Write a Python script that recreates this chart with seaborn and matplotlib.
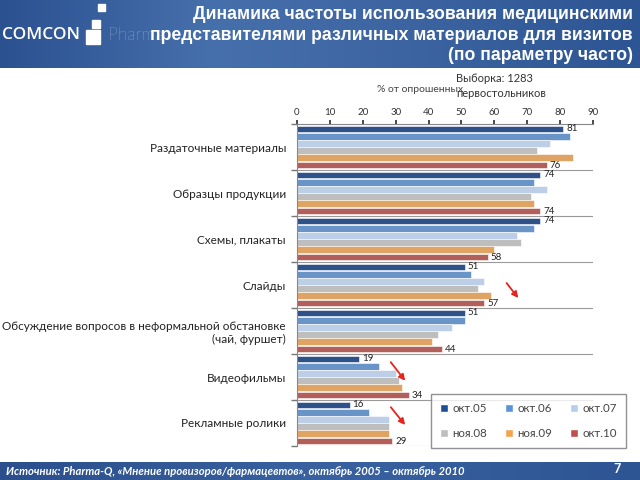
import numpy as np
import pandas as pd
import matplotlib
matplotlib.use("Agg")
import matplotlib.pyplot as plt
import seaborn as sns
from matplotlib.patches import Rectangle

# --- data ---
categories = [
    "Раздаточные материалы",
    "Образцы продукции",
    "Схемы, плакаты",
    "Слайды",
    "Обсуждение вопросов в неформальной обстановке\n(чай, фуршет)",
    "Видеофильмы",
    "Рекламные ролики",
]
periods = ["окт.05", "окт.06", "окт.07", "ноя.08", "ноя.09", "окт.10"]

okt05 = [81, 74, 74, 51, 51, 19, 16]
okt06 = [83, 72, 72, 53, 51, 25, 22]
okt07 = [77, 76, 67, 57, 47, 30, 28]
noya08 = [73, 71, 68, 55, 43, 31, 28]
noya09 = [84, 72, 60, 59, 41, 32, 28]
okt10 = [76, 74, 58, 57, 44, 34, 29]

colors = ["#1F4E99", "#5A93D6", "#B5CEEE", "#BEBEBE", "#F4A34F", "#C0504D"]

series = [okt05, okt06, okt07, noya08, noya09, okt10]
df = pd.DataFrame({
    "cat": np.repeat([categories], len(periods), axis=0).ravel(),
    "period": np.repeat(periods, len(categories)),
    "value": np.concatenate(series),
})

sns.set_theme(style="white")
plt.rcParams["font.family"] = ["Lato", "DejaVu Sans"]

fig = plt.figure(figsize=(6.4, 4.8), dpi=100)

# header banner
bg = fig.add_axes([0, 1 - 68 / 480, 1, 68 / 480])
grad = np.linspace(0, 1, 256)[None, :]
bg.imshow(np.vstack([grad, grad]), aspect="auto", extent=[0, 1, 0, 1],
          cmap=matplotlib.colors.LinearSegmentedColormap.from_list(
              "hdr", ["#2C5190", "#4670AC", "#3B63A0", "#2E5593"]))
bg.set_axis_off()

# footer banner
ft = fig.add_axes([0, 0, 1, 18 / 480])
ft.imshow(np.vstack([grad, grad]), aspect="auto", extent=[0, 1, 0, 1],
          cmap=matplotlib.colors.LinearSegmentedColormap.from_list(
              "ftr", ["#2B4F8C", "#3A62A0", "#2E5593"]))
ft.set_axis_off()

# logo
fig.text(2 / 640, 1 - 35 / 480, "COMCON", color="white", fontsize=12.5,
         va="center", ha="left", fontweight="semibold",
         family=["Open Sans", "DejaVu Sans"])
for x0, y0, w in [(86, 30, 14), (92, 20, 8), (98, 4, 7)]:
    fig.patches.append(Rectangle((x0 / 640, 1 - (y0 + w) / 480), w / 640, w / 480,
                                 transform=fig.transFigure, color="white"))
fig.text(108 / 640, 1 - 35 / 480, "Pharma", color="#C9D6EA", fontsize=12.5,
         va="center", ha="left", fontweight="light")

# title
fig.text(633 / 640, 1 - 35 / 480,
         "Динамика частоты использования медицинскими\n"
         "представителями различных материалов для визитов\n"
         "(по параметру часто)",
         color="white", fontsize=12.7, fontweight="bold", ha="right", va="center",
         linespacing=1.25, family=["Liberation Sans", "DejaVu Sans"])

# footer text
fig.text(6 / 640, 9 / 480,
         "Источник: Pharma-Q, «Мнение провизоров/фармацевтов», октябрь 2005 – октябрь 2010",
         color="white", fontsize=8.1, fontweight="bold", style="italic",
         ha="left", va="center")
fig.text(617 / 640, 11 / 480, "7", color="white", fontsize=9,
         fontweight="bold", ha="center", va="center")

# main chart
ax = fig.add_axes([297 / 640, 34 / 480, 296 / 640, 322 / 480])
sns.barplot(data=df, y="cat", x="value", hue="period", hue_order=periods,
            palette=colors, orient="h", width=0.94, gap=0.06,
            edgecolor="white", linewidth=0.4, legend=False, ax=ax)

ax.set_xlim(0, 90)
ax.set_xticks(range(0, 91, 10))
ax.xaxis.tick_top()
ax.tick_params(axis="x", labelsize=7, colors="#333333", length=3,
               direction="out", pad=2, top=True)
ax.set_xlabel("")
ax.set_ylabel("")
ax.set_ylim(len(categories) - 0.5, -0.5)

ax.set_yticks(range(len(categories)))
ax.set_yticklabels(categories, fontsize=8.5, color="#222222",
                   ha="right", multialignment="right")
ax.tick_params(axis="y", which="major", length=0, pad=8)
ax.set_yticks(np.arange(-0.5, len(categories)), minor=True)
ax.tick_params(axis="y", which="minor", length=4, color="#777777", left=True)

for b in np.arange(0.5, len(categories) + 0.5):
    ax.axhline(b, color="#9A9A9A", lw=0.8, zorder=0)

for side in ["right", "bottom"]:
    ax.spines[side].set_visible(False)
for side in ["top", "left"]:
    ax.spines[side].set_color("#888888")
    ax.spines[side].set_linewidth(0.8)

# value labels on first and last series
ax.bar_label(ax.containers[0], labels=[str(v) for v in okt05],
             padding=2, fontsize=7, color="#222222")
ax.bar_label(ax.containers[-1], labels=[str(v) for v in okt10],
             padding=2, fontsize=7, color="#222222")

# red arrows
arrow = dict(arrowstyle="-|>", color="#E8231C", lw=1.3, mutation_scale=9)
ax.annotate("", xy=(67.8, 3.33), xytext=(63.2, 2.91), arrowprops=arrow)
ax.annotate("", xy=(33.4, 5.13), xytext=(28.0, 4.63), arrowprops=arrow)
ax.annotate("", xy=(33.4, 6.09), xytext=(28.0, 5.61), arrowprops=arrow)

# axis caption and sample size
fig.text(420 / 640, 1 - 90 / 480, "% от опрошенных", fontsize=7.5,
         color="#444444", ha="center", va="center")
fig.text(456 / 640, 1 - 86 / 480, "Выборка: 1283\nпервостольников",
         fontsize=8, color="#333333", ha="left", va="center", linespacing=1.5)

# legend, filled row by row as in the reference
order = [0, 3, 1, 4, 2, 5]
handles = [Rectangle((0, 0), 1, 1, facecolor=colors[i], edgecolor="white") for i in order]
labels = [periods[i] for i in order]
leg = fig.legend(handles, labels, ncol=3, loc="upper left",
                 bbox_to_anchor=(425 / 640, 1 - 388 / 480),
                 fontsize=8.3, frameon=True, fancybox=False,
                 handlelength=0.7, handleheight=0.7, handletextpad=0.4,
                 columnspacing=1.5, labelspacing=1.2, borderpad=0.8)
leg.get_frame().set_edgecolor("#777777")
leg.get_frame().set_linewidth(1.0)
for t in leg.get_texts():
    t.set_color("#444444")

fig.savefig("out.png", dpi=100)
